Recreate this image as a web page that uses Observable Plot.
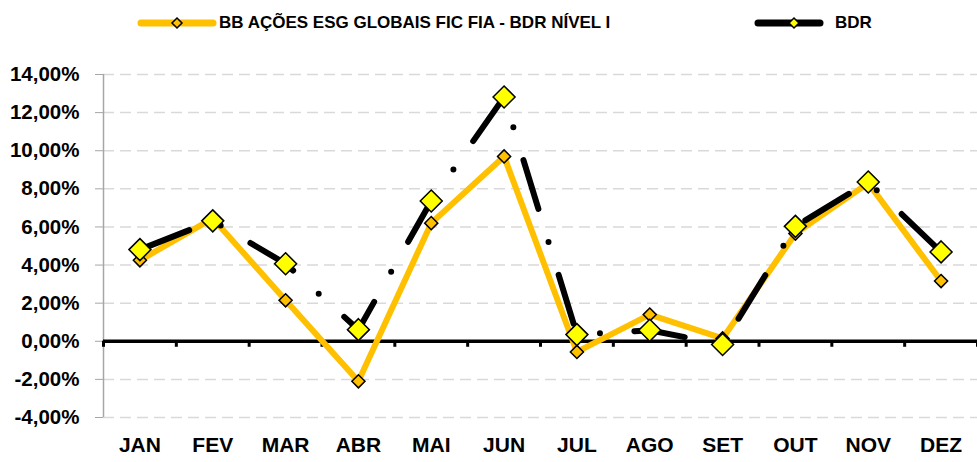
<!DOCTYPE html>
<html>
<head>
<meta charset="utf-8">
<script src="https://cdn.jsdelivr.net/npm/d3@7"></script>
<script src="https://cdn.jsdelivr.net/npm/@observablehq/plot@0.6"></script>
<style>
  html, body { margin: 0; padding: 0; background: #fff; }
  #wrap { width: 977px; height: 462px; position: relative; font-family: "Liberation Sans", Arial, sans-serif; }
  #legend { position: relative; height: 46px; width: 977px; }
  .li { position: absolute; top: 0; height: 46px; display: flex; align-items: center; }
  .lt { font-weight: bold; font-size: 17px; color: #000; white-space: nowrap; }
</style>
</head>
<body>
<div id="wrap">
  <div id="legend"></div>
  <div id="chart"></div>
</div>
<script>
const months = ["JAN","FEV","MAR","ABR","MAI","JUN","JUL","AGO","SET","OUT","NOV","DEZ"];
const fundName = "BB AÇÕES ESG GLOBAIS FIC FIA - BDR NÍVEL I";
const bdrName = "BDR";
const fundValues = [4.25, 6.45, 2.15, -2.1, 6.2, 9.7, -0.56, 1.40, 0.15, 5.65, 8.3, 3.16];
const bdrValues  = [4.81, 6.32, 4.07, 0.61, 7.36, 12.82, 0.35, 0.58, -0.17, 6.03, 8.36, 4.69];
const yTicks = [-4, -2, 0, 2, 4, 6, 8, 10, 12, 14];

const ORANGE = "#FFC000";
const YELLOW = "#FFFF00";

const fund = months.map((m, i) => ({i, m, v: fundValues[i]}));
const bdr = months.map((m, i) => ({i, m, v: bdrValues[i]}));
const boundaries = d3.range(0, months.length + 1).map(k => k - 0.5);
const fmt = d => d.toFixed(2).replace(".", ",") + "%";

// Legend
const legend = document.getElementById("legend");
function legendItem(left, lineW, diamondX, textGap, lineColor, markFill, markR, label) {
  const div = document.createElement("div");
  div.className = "li";
  div.style.left = left + "px";
  const ns = "http://www.w3.org/2000/svg";
  const svg = document.createElementNS(ns, "svg");
  svg.setAttribute("width", lineW);
  svg.setAttribute("height", 20);
  const ln = document.createElementNS(ns, "line");
  ln.setAttribute("x1", 4); ln.setAttribute("x2", lineW - 4);
  ln.setAttribute("y1", 10); ln.setAttribute("y2", 10);
  ln.setAttribute("stroke", lineColor); ln.setAttribute("stroke-width", 7);
  ln.setAttribute("stroke-linecap", "round");
  svg.appendChild(ln);
  const p = document.createElementNS(ns, "path");
  const r = markR;
  p.setAttribute("d", `M${diamondX},${10 - r}L${diamondX + r},10L${diamondX},${10 + r}L${diamondX - r},10Z`);
  p.setAttribute("fill", markFill); p.setAttribute("stroke", "#000"); p.setAttribute("stroke-width", 1.5);
  svg.appendChild(p);
  div.appendChild(svg);
  const t = document.createElement("span");
  t.className = "lt";
  t.style.marginLeft = textGap + "px";
  t.textContent = label;
  div.appendChild(t);
  legend.appendChild(div);
}
legendItem(137, 80, 40, 2, ORANGE, ORANGE, 5, fundName);
legendItem(754, 70, 40, 11, "#000", YELLOW, 5, bdrName);

const chart = Plot.plot({
  width: 977,
  height: 416,
  marginLeft: 103,
  marginRight: 0,
  marginTop: 28,
  marginBottom: 45,
  style: {fontFamily: "'Liberation Sans', Arial, sans-serif", fontWeight: "bold", fontSize: "20px", color: "#000", background: "#fff"},
  x: {type: "linear", domain: [-0.5, months.length - 0.5], axis: null},
  y: {type: "linear", domain: [-4, 14], axis: null},
  marks: [
    Plot.ruleY(yTicks.filter(d => d !== 0), {y: d => d, stroke: "#D9D9D9", strokeWidth: 1.5, strokeDasharray: "11,6"}),
    Plot.axisY({ticks: yTicks, tickFormat: fmt, label: null, tickSize: 8, tickPadding: 16, stroke: "#A6A6A6", fill: "#000", fontSize: 20.5, fontWeight: "bold"}),
    Plot.ruleX([-0.5], {x: d => d, stroke: "#A6A6A6", strokeWidth: 1.5}),
    Plot.ruleY([0], {y: d => d, stroke: "#000", strokeWidth: 3.5}),
    Plot.ruleX(boundaries, {x: d => d, y1: 0, y2: 0, insetBottom: -6, stroke: "#000", strokeWidth: 3}),
    Plot.text(months, {x: (d, i) => i, frameAnchor: "bottom", dy: 34, text: d => d, fontSize: 21, fontWeight: "bold", fill: "#000"}),
    Plot.line(fund, {x: "i", y: "v", stroke: ORANGE, strokeWidth: 6, strokeLinejoin: "miter"}),
    Plot.dot(fund, {x: "i", y: "v", symbol: "diamond2", r: 5.9, fill: ORANGE, stroke: "#000", strokeWidth: 1.5}),
    Plot.line(bdr, {x: "i", y: "v", stroke: "#000", strokeWidth: 6, strokeDasharray: "51,34.5,0,34.5", strokeDashoffset: 118, strokeLinecap: "round", strokeLinejoin: "round"}),
    Plot.dot(bdr, {x: "i", y: "v", symbol: "diamond2", r: 9.9, fill: YELLOW, stroke: "#000", strokeWidth: 1.5})
  ]
});
document.getElementById("chart").appendChild(chart);
</script>
</body>
</html>
